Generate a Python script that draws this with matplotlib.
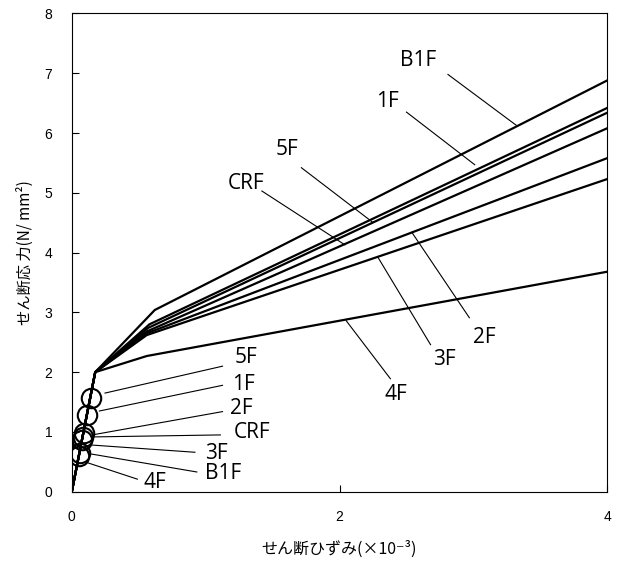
import matplotlib
matplotlib.use("Agg")
import matplotlib.pyplot as plt

plt.rcParams["font.family"] = ["Noto Sans CJK JP", "DejaVu Sans"]

# せん断ひずみ - せん断応力 (トリリニア) 各階
floors = ["B1F", "1F", "5F", "CRF", "2F", "3F", "4F"]
strain = [
    [0, 0.175, 0.62, 4.0],
    [0, 0.175, 0.58, 4.0],
    [0, 0.175, 0.57, 4.0],
    [0, 0.175, 0.56, 4.0],
    [0, 0.175, 0.56, 4.0],
    [0, 0.175, 0.56, 4.0],
    [0, 0.175, 0.56, 4.0],
]
stress = [
    [0, 2.0, 3.04, 6.88],
    [0, 2.0, 2.80, 6.42],
    [0, 2.0, 2.74, 6.34],
    [0, 2.0, 2.68, 6.08],
    [0, 2.0, 2.65, 5.58],
    [0, 2.0, 2.62, 5.23],
    [0, 2.0, 2.27, 3.68],
]

# ひび割れ点 (○)
crack_floors = ["5F", "1F", "2F", "CRF", "3F", "B1F", "4F"]
crack_strain = [0.145, 0.115, 0.09, 0.085, 0.078, 0.06, 0.055]
crack_stress = [1.57, 1.28, 0.98, 0.92, 0.86, 0.64, 0.60]

# 引出し線ラベル (曲線)
lbl_text = ["B1F", "1F", "5F", "CRF", "2F", "3F", "4F"]
lbl_pos = [(2.59, 7.22), (2.36, 6.53), (1.61, 5.72), (1.30, 5.15),
           (3.08, 2.58), (2.78, 2.22), (2.42, 1.62)]
lbl_from = [(2.81, 6.98), (2.50, 6.35), (1.715, 5.42), (1.42, 5.03),
            (2.97, 2.91), (2.68, 2.46), (2.38, 1.89)]
lbl_to = [(3.32, 6.13), (3.01, 5.47), (2.246, 4.51), (2.04, 4.13),
          (2.54, 4.34), (2.29, 3.91), (2.05, 2.86)]

# 引出し線ラベル (ひび割れ点)
clbl_pos = [(1.30, 2.25), (1.28, 1.80), (1.27, 1.40), (1.35, 0.99),
            (1.08, 0.64), (1.13, 0.30), (0.62, 0.15)]
clbl_from = [(1.126, 2.10), (1.126, 1.78), (1.126, 1.34), (1.11, 0.95),
             (0.92, 0.66), (0.934, 0.33), (0.49, 0.21)]
clbl_to = [(0.248, 1.65), (0.206, 1.35), (0.177, 0.96), (0.168, 0.917),
           (0.153, 0.78), (0.147, 0.63), (0.124, 0.48)]

fig = plt.figure(figsize=(6.19, 5.61), dpi=100)
ax = fig.add_axes([0.116, 0.1235, 0.865, 0.8525])

for xs, ys in zip(strain, stress):
    ax.plot(xs, ys, color="black", lw=1.6, solid_joinstyle="miter")

ax.plot(crack_strain, crack_stress, "o", ms=14, mfc="none",
        mec="black", mew=1.5, ls="none")

for t, p, a, b in zip(lbl_text, lbl_pos, lbl_from, lbl_to):
    ax.plot([a[0], b[0]], [a[1], b[1]], color="black", lw=0.8)
    ax.text(p[0], p[1], t, ha="center", va="center", fontsize=15,
            family=["Open Sans", "DejaVu Sans"])

for t, p, a, b in zip(crack_floors, clbl_pos, clbl_from, clbl_to):
    ax.plot([a[0], b[0]], [a[1], b[1]], color="black", lw=0.8)
    ax.text(p[0], p[1], t, ha="center", va="center", fontsize=15,
            family=["Open Sans", "DejaVu Sans"])

ax.set_xlim(0, 4)
ax.set_ylim(0, 8)
ax.set_xticks([0, 2, 4])
ax.set_yticks(range(0, 9))
ax.tick_params(direction="in", length=5, width=0.8, labelsize=10)
ax.tick_params(axis="x", pad=13)
ax.tick_params(axis="y", pad=14)
for lab in ax.get_xticklabels() + ax.get_yticklabels():
    lab.set_family(["Liberation Sans", "DejaVu Sans"])
for s in ax.spines.values():
    s.set_linewidth(0.8)

ax.set_xlabel("せん断ひずみ(×10⁻³)", fontsize=11.5, labelpad=12)
ax.set_ylabel("せん断応 力(N/ mm²)", fontsize=11, labelpad=8)

fig.savefig("out.png", dpi=100)
